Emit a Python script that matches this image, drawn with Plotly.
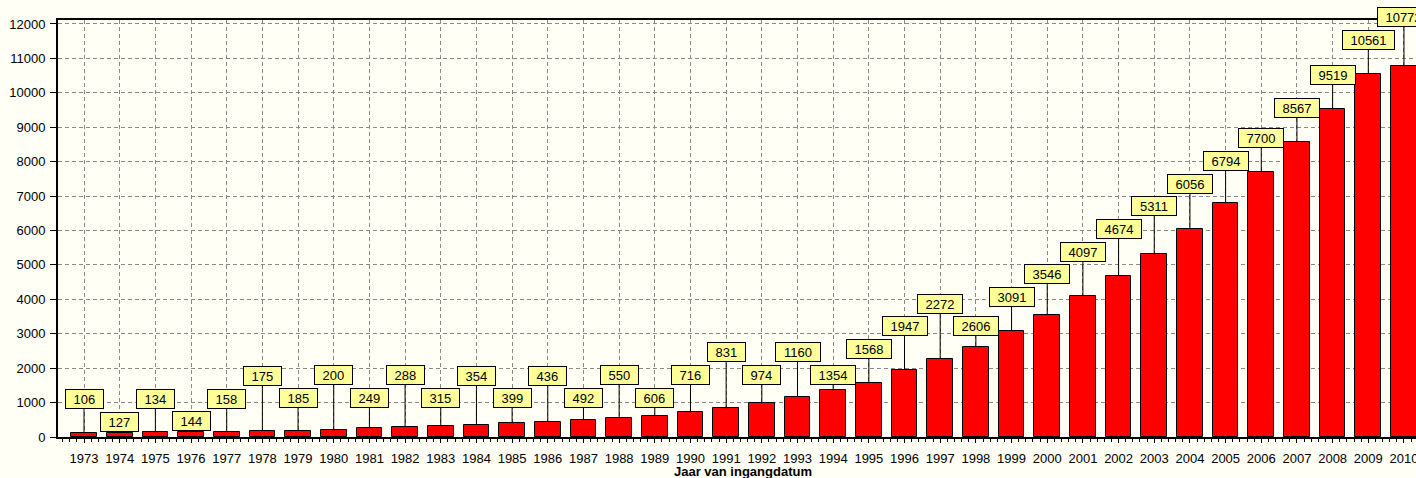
import plotly.graph_objects as go

years = list(range(1973, 2011))
counts = [106, 127, 134, 144, 158, 175, 185, 200, 249, 288,
          315, 354, 399, 436, 492, 550, 606, 716, 831, 974,
          1160, 1354, 1568, 1947, 2272, 2606, 3091, 3546, 4097, 4674,
          5311, 6056, 6794, 7700, 8567, 9519, 10561, 10772]
tick_labels = [str(y) for y in years]
y_ticks = list(range(0, 12001, 1000))

# label box offsets above the bar top (pixels), to stagger labels
label_offsets = [-34, -11, -33, -11, -33, -55, -33, -55, -30, -52,
                 -28, -49, -25, -46, -22, -43, -18, -37, -56, -28,
                 -45, -15, -34, -44, -55, -21, -34, -41, -44, -47,
                 -48, -45, -42, -34, -34, -34, -34, -49]

BG = "#FFFFF5"
FONT = "Liberation Sans, Arial, sans-serif"

fig = go.Figure()
fig.add_trace(go.Bar(
    x=years, y=counts, width=0.72,
    marker=dict(color="#FF0000", line=dict(color="#000000", width=1)),
    hoverinfo="x+y",
))

for yr, v, off in zip(years, counts, label_offsets):
    s = str(v)
    fig.add_annotation(
        x=yr, y=v, xref="x", yref="y",
        text=s, showarrow=True, arrowhead=0, arrowwidth=1, arrowcolor="#000000",
        ax=0, ay=off, standoff=0,
        bgcolor="#FFFF99", bordercolor="#000000", borderwidth=1, borderpad=1,
        width=len(s) * 7.2 + 13, height=16,
        font=dict(family=FONT, size=13, color="#000000"),
    )

fig.add_annotation(
    text="<b>Jaar van ingangdatum</b>", xref="paper", yref="paper",
    x=0.5044, y=-35 / 417, xanchor="center", yanchor="middle",
    showarrow=False, font=dict(family=FONT, size=13, color="#000000"),
)

fig.update_layout(
    width=1416, height=478,
    margin=dict(l=58, r=0, t=20, b=41, autoexpand=False),
    paper_bgcolor=BG, plot_bgcolor=BG,
    showlegend=False, bargap=0,
    font=dict(family=FONT, size=13, color="#000000"),
)
fig.update_xaxes(
    range=[1972.271, 2010.337], automargin=False,
    tickmode="array", tickvals=years, ticktext=tick_labels,
    ticks="outside", ticklen=4, tickcolor="#000000",
    minor=dict(ticks="outside", ticklen=3, dtick=0.2, tick0=1973, tickcolor="#000000", showgrid=False),
    showgrid=True, gridcolor="#8A8A8A", gridwidth=1, griddash="4px,3px",
    showline=True, linecolor="#000000", linewidth=2, mirror=True,
    zeroline=False, ticklabelstandoff=4, ticklabeloverflow="allow",
    tickfont=dict(family=FONT, size=13, color="#000000"),
)
fig.update_yaxes(
    range=[0, 12116], automargin=False,
    tickmode="array", tickvals=y_ticks, ticktext=[str(t) for t in y_ticks],
    ticks="outside", ticklen=6, tickcolor="#000000",
    showgrid=True, gridcolor="#8A8A8A", gridwidth=1, griddash="4px,3px",
    showline=True, linecolor="#000000", linewidth=2,
    zeroline=False, ticklabelstandoff=2,
    tickfont=dict(family=FONT, size=13, color="#000000"),
)

fig.write_html(
    "out.html",
    config={"displayModeBar": False},
    post_script="document.body.style.margin='0';document.body.style.overflow='hidden';"
                "document.body.style.background='#FFFFF5';",
)
